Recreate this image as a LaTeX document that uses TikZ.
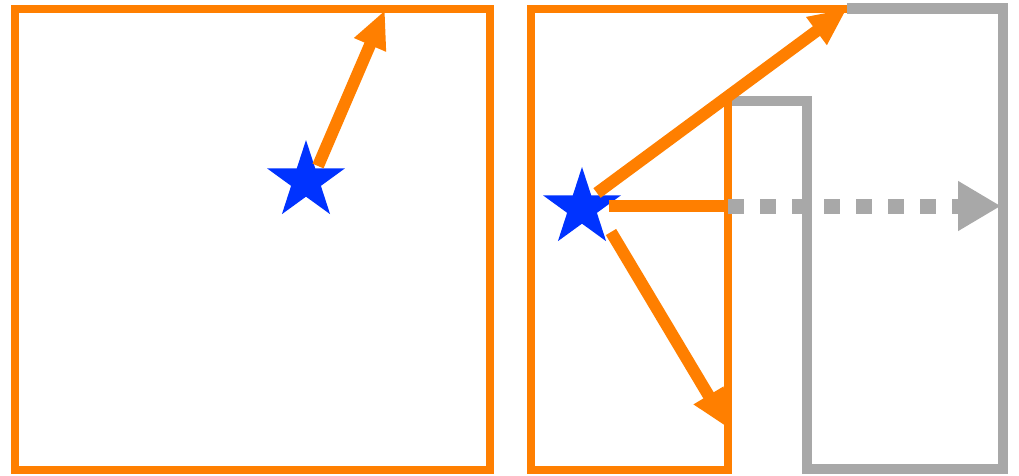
\documentclass[tikz,border=0pt]{standalone}
\usetikzlibrary{arrows.meta,shapes.geometric}
\definecolor{ora}{HTML}{FF7F00}
\definecolor{gry}{HTML}{A8A8A8}
\definecolor{blu}{HTML}{0033FF}
\begin{document}
\begin{tikzpicture}[x=1pt,y=-1pt,
  wall/.style={draw=ora,line width=8pt,line join=miter},
  gwall/.style={draw=gry,line width=10.5pt,line join=miter},
  ray/.style={draw=ora,line width=12pt,-{Triangle[length=38pt,width=32pt]}},
  seg/.style={draw=ora,line width=12pt},
  grayray/.style={draw=gry,line width=15pt,dash pattern=on 16pt off 16pt,-{Triangle[length=43pt,width=47pt]}},
  src/.style={star,star points=5,star point ratio=2.618,minimum size=82pt,inner sep=0pt,fill=blu,draw=none}]
\useasboundingbox (0,0) rectangle (1019,475);
% left room
\draw[wall] (15,8.5) rectangle (490,469.5);
\node[src] (s1) at (306,181) {};
\coordinate (a1s) at (318,166);
\coordinate (a1e) at (385,10);
\draw[ray] (a1s) -- (a1e);
% right: virtual room (grey)
\draw[gwall] (847,8.5) -- (1003,8.5) -- (1003,469) -- (807,469) -- (807,101) -- (728,101);
% right: real room (orange)
\draw[wall] (728,101) -- (728,469.5) -- (531,469.5) -- (531,8.5) -- (847,8.5);
\node[src] (s2) at (582,208) {};
\coordinate (b1s) at (597,193);
\coordinate (b1e) at (847,8.5);
\coordinate (b2s) at (609,206);
\coordinate (b2e) at (728,206);
\coordinate (b3s) at (611,232);
\coordinate (b3e) at (728,428);
\coordinate (g1e) at (1001,206);
\draw[ray] (b1s) -- (b1e);
\draw[seg] (b2s) -- (b2e);
\draw[ray] (b3s) -- (b3e);
\draw[grayray] (b2e) -- (g1e);
\end{tikzpicture}
\end{document}
